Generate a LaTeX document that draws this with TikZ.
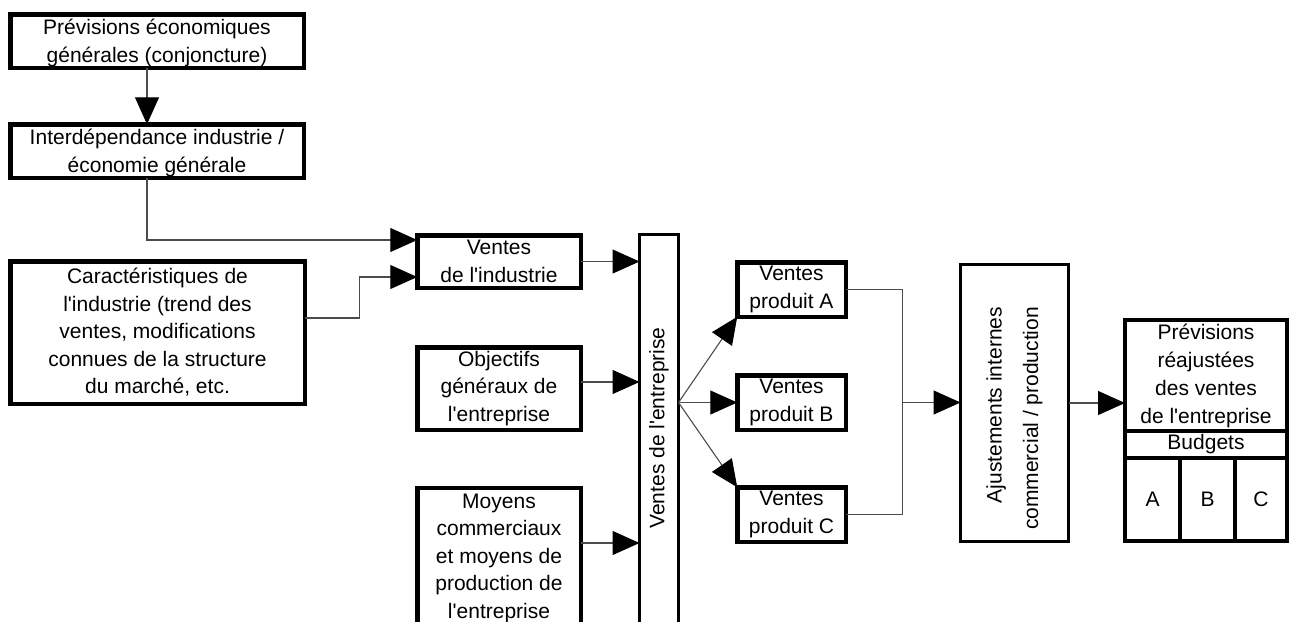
\documentclass[tikz,border=0pt]{standalone}
\usepackage{fontspec}
\setmainfont{Liberation Sans}
\usetikzlibrary{arrows.meta,calc}
\newcommand\ap{\textquotesingle}
\begin{document}
\begin{tikzpicture}[x=1pt,y=-1pt,
  every node/.style={font=\fontsize{21}{27.5}\selectfont, align=center, inner sep=0pt, outer sep=0pt},
  box/.style={draw, line width=4.5pt},
  mbox/.style={draw, line width=3pt},
  conn/.style={draw=black!70, line width=1.1pt},
  arr/.style={conn, -{Triangle[length=27pt,width=24pt,color=black]}}]
\useasboundingbox (0,0) rectangle (1292,621);
\clip (0,0) rectangle (1292,621);
\fill[white] (0,0) rectangle (1292,621);

\node[box, minimum width=293.5pt, minimum height=53.5pt, text depth=-4pt] (b1) at (157,41) {Prévisions économiques\\générales (conjoncture)};
\node[box, minimum width=293.5pt, minimum height=53.5pt, text depth=-4pt] (b2) at (157,151) {Interdépendance industrie /\\économie générale};
\node[box, minimum width=294.5pt, minimum height=142.5pt] (car) at (157.5,332.5) {Caractéristiques de\\l\ap industrie (trend des\\ventes, modifications\\connues de la structure\\du marché, etc.};
\node[box, minimum width=163.5pt, minimum height=52.5pt] (vi) at (499,261.5) {Ventes\\de l\ap industrie};
\node[box, minimum width=163.5pt, minimum height=82.5pt] (obj) at (499,388.5) {Objectifs\\généraux de\\l\ap entreprise};
\node[box, minimum width=163.5pt, minimum height=140pt] (moy) at (499,558) {Moyens\\commerciaux\\et moyens de\\production de\\l\ap entreprise};
\node[mbox, minimum width=39pt, minimum height=400pt] (ve) at (659,434.5) {};
\node[rotate=90] (vel) at (659,428) {Ventes de l\ap entreprise};
\node[box, minimum width=108.5pt, minimum height=54.5pt] (pa) at (791.5,289.5) {Ventes\\produit A};
\node[box, minimum width=108.5pt, minimum height=54.5pt] (pb) at (791.5,402.5) {Ventes\\produit B};
\node[box, minimum width=108.5pt, minimum height=54.5pt] (pc) at (791.5,514.5) {Ventes\\produit C};
\node[mbox, minimum width=108pt, minimum height=277pt] (aj) at (1014.5,403) {};
\node[rotate=90, align=right] (ajl) at (1014.5,418.5) {Ajustements internes\\[9pt]commercial / production};
\node[box, minimum width=162pt, minimum height=111pt, font=\fontsize{21}{28}\selectfont] (prt) at (1206,375.5) {Prévisions\\réajustées\\des ventes\\de l\ap entreprise};
\node[box, minimum width=162pt, minimum height=27pt] (bud) at (1206,444.5) {Budgets};
\node[box, minimum width=55pt, minimum height=83pt] (ca) at (1152.5,499.5) {A};
\node[box, minimum width=55pt, minimum height=83pt] (cb) at (1207.5,499.5) {B};
\node[box, minimum width=52pt, minimum height=83pt] (cc) at (1261,499.5) {C};

% connectors
\draw[arr] ([xshift=-10pt]b1.south) -- ([xshift=-10pt]b2.north);
\draw[arr] ([xshift=-10pt]b2.south) |- ([yshift=21.5pt]vi.west);
\draw[arr] ([yshift=14.5pt]car.east) -- ++(55,0) |- ([yshift=-15.5pt]vi.west);
\draw[arr] (vi.east) -- (vi.east -| ve.west);
\coordinate (o1) at ([yshift=6.5pt]obj.east);
\draw[arr] (o1) -- (o1 -| ve.west);
\coordinate (m1) at ([yshift=15pt]moy.east);
\draw[arr] (m1) -- (m1 -| ve.west);
\coordinate (br) at (ve.east |- pb.west);
\draw[arr] (br) -- (pa.south west);
\draw[arr] (br) -- (pb.west);
\draw[arr] (br) -- (pc.north west);
\draw[conn] (pa.east) -- ++(57,0) coordinate (ja) |- (pc.east);
\coordinate (jn) at (ja |- pb.east);
\draw[arr] (jn) -- (jn -| aj.west);
\draw[arr] (aj.east) -- (aj.east -| prt.west);
\end{tikzpicture}
\end{document}
